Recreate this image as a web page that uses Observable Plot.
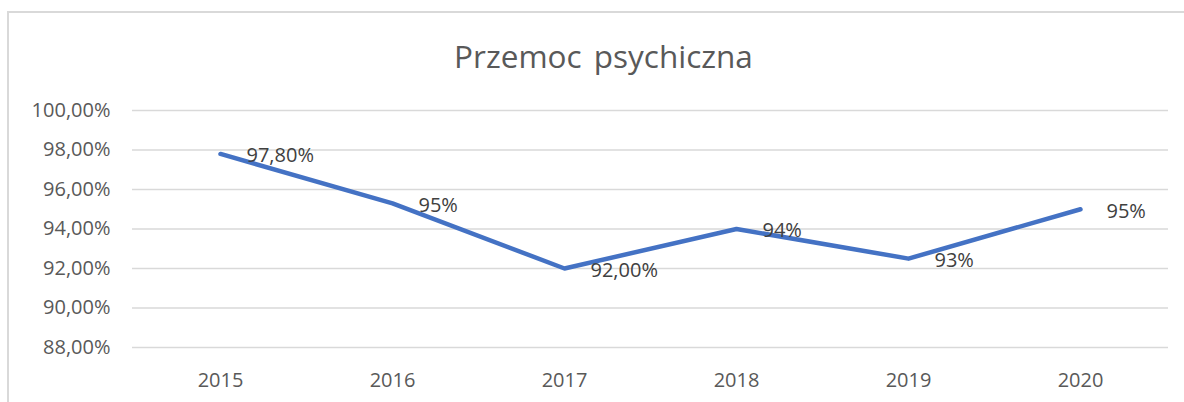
<!DOCTYPE html>
<html>
<head>
<meta charset="utf-8">
<script src="https://cdn.jsdelivr.net/npm/d3@7"></script>
<script src="https://cdn.jsdelivr.net/npm/@observablehq/plot@0.6"></script>
<style>
  html, body { margin: 0; padding: 0; background: #fff; }
  #chart { position: relative; width: 1184px; height: 402px; overflow: hidden; font-family: "Open Sans", sans-serif; }
  #frame { position: absolute; left: 7px; top: 11px; width: 1200px; height: 420px; border-left: 2px solid #d9d9d9; border-top: 2px solid #d9d9d9; box-sizing: border-box; }
  #title { position: relative; height: 90px; width: 1184px; }
  #title span { position: absolute; left: 0; width: 1207px; text-align: center; top: 40px; line-height: 32px; font-size: 31.5px; color: #595959; word-spacing: 4px; }
  #plot { position: relative; }
</style>
</head>
<body>
<div id="chart">
  <div id="frame"></div>
  <div id="title"><span>Przemoc psychiczna</span></div>
  <div id="plot"></div>
</div>
<script>
const years = ["2015", "2016", "2017", "2018", "2019", "2020"];
const values = [97.8, 95.3, 92.0, 94.0, 92.5, 95.0];
const labels = ["97,80%", "95%", "92,00%", "94%", "93%", "95%"];
const yTicks = [88, 90, 92, 94, 96, 98, 100];

const data = years.map((y, i) => ({year: y, value: values[i], label: labels[i]}));
const fmt = d => d.toFixed(2).replace(".", ",") + "%";

const chart = Plot.plot({
  width: 1184,
  height: 312,
  marginTop: 20,
  marginBottom: 55,
  marginLeft: 132,
  marginRight: 16,
  style: {fontFamily: "Open Sans, sans-serif", fontSize: "20px", background: "transparent", overflow: "visible"},
  x: {type: "band", domain: years, padding: 0, label: null},
  y: {domain: [88, 100], label: null},
  marks: [
    Plot.gridY(yTicks, {stroke: "#d9d9d9", strokeOpacity: 1, strokeWidth: 1.3}),
    Plot.axisY(yTicks, {tickSize: 0, tickPadding: 22, tickFormat: fmt, fill: "#595959", fontSize: 20, label: null}),
    Plot.axisX({tickSize: 0, tickPadding: 25, fill: "#595959", fontSize: 20, label: null}),
    Plot.line(data, {x: "year", y: "value", stroke: "#4472C4", strokeWidth: 4.5, strokeLinecap: "round", strokeLinejoin: "round"}),
    Plot.text(data, {x: "year", y: "value", text: "label", textAnchor: "start", dx: 26, dy: 2, fill: "#404040", fontSize: 20})
  ]
});
document.getElementById("plot").appendChild(chart);
</script>
</body>
</html>
